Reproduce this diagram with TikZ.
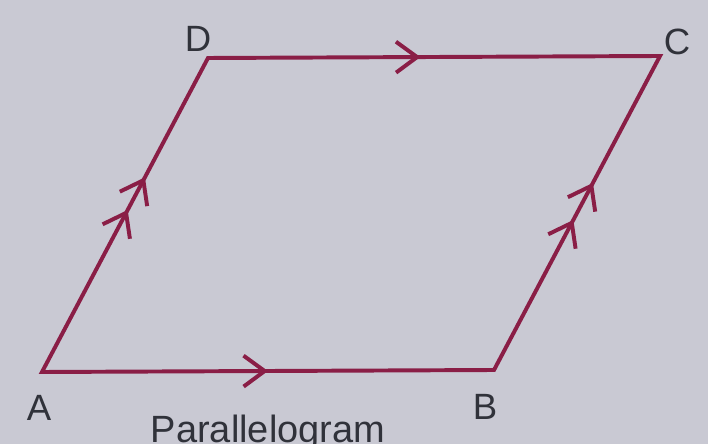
\documentclass[tikz,border=0pt]{standalone}
\usepackage{fontspec}
\setmainfont{Liberation Sans}
\usetikzlibrary{arrows.meta,decorations.markings}
\definecolor{paper}{RGB}{201,201,211}
\definecolor{edge}{RGB}{138,30,70}
\definecolor{ink}{RGB}{48,50,58}
\tikzset{chev/.tip={Straight Barb[length=15pt,width=22pt,line width=2.8pt]}}
\begin{document}
\begin{tikzpicture}[x=0.025cm,y=-0.025cm,
  side/.style={edge,line width=2.8pt,line join=miter},
  lbl/.style={text=ink,font=\fontsize{26}{30}\selectfont,inner sep=0pt},
  onemark/.style={decoration={markings,
      mark=at position #1 with {\arrow{chev}}},postaction={decorate}},
  twomark/.style 2 args={decoration={markings,
      mark=at position #1 with {\arrow{chev}},
      mark=at position #2 with {\arrow{chev}}},postaction={decorate}}
]
  \fill[paper] (0,0) rectangle (708,444);
  \useasboundingbox (0,0) rectangle (708,444);

  \coordinate (A) at (42,372);
  \coordinate (B) at (494,370);
  \coordinate (C) at (660,56);
  \coordinate (D) at (208,58);

  \draw[side] (A) -- (B) -- (C) -- (D) -- cycle;

  % parallel marks
  \path[side,onemark=0.5] (A) -- (B);
  \path[side,onemark=0.47] (D) -- (C);
  \path[side,twomark={0.516}{0.62}] (A) -- (D);
  \path[side,twomark={0.478}{0.596}] (B) -- (C);

  \node[lbl] (labA) at (39,408) {A};
  \node[lbl] (labB) at (485,407) {B};
  \node[lbl] (labC) at (677,42) {C};
  \node[lbl] (labD) at (198,39) {D};
  \node[lbl,anchor=base,font=\fontsize{27}{30}\selectfont] (name) at (268,442) {Parallelogram};
\end{tikzpicture}
\end{document}
